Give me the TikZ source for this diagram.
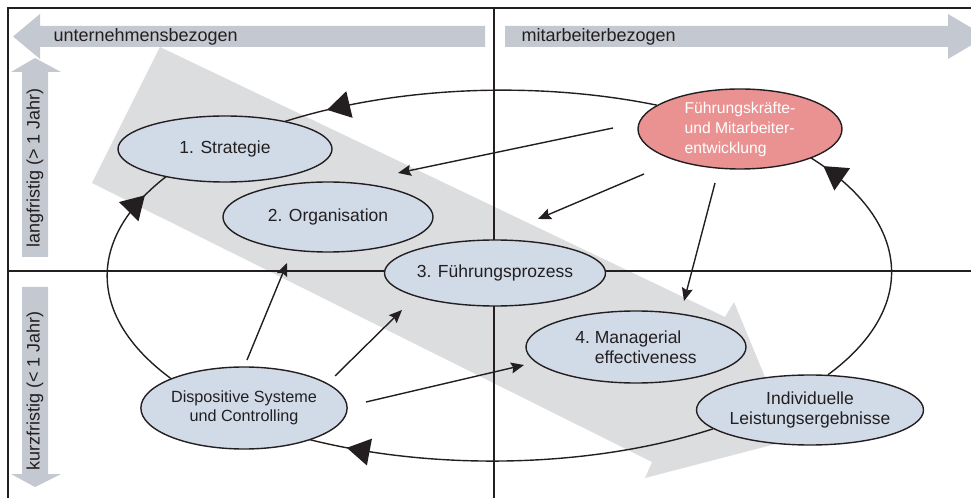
\documentclass[tikz,border=0pt]{standalone}
\usepackage{fontspec}
\setmainfont{Liberation Sans}
\usetikzlibrary{arrows.meta,shapes.geometric,decorations.markings}
\definecolor{bandgrau}{RGB}{220,221,223}
\definecolor{balkengrau}{RGB}{196,200,208}
\definecolor{ellblau}{RGB}{209,219,232}
\definecolor{ellrot}{RGB}{234,146,145}
\definecolor{linie}{RGB}{35,31,32}
\pgfdeclarelayer{bg}
\pgfdeclarelayer{back}
\pgfsetlayers{bg,back,main}

\begin{document}
\begin{tikzpicture}[x=1pt, y=1pt, >={Stealth[length=13pt,width=11pt,inset=2pt]},
    every node/.style={font=\fontsize{17.5}{20.5}\selectfont, text=linie},
    feld/.style={ellipse, draw=linie, line width=1.4pt, fill=ellblau, inner sep=0pt},
    kreis/.style={color=linie, line width=1.4pt},
    pfeilmitte/.style={postaction=decorate, decoration={markings,
        mark=at position #1 with {\arrow{Triangle[length=23pt,width=27pt]}}}},
    verbindung/.style={->, color=linie, line width=1.4pt},
    etikett/.style={font=\fontsize{18}{21}\selectfont}]
  \useasboundingbox (0,0) rectangle (971,498);

  % Felder
  \node[feld, minimum width=214pt, minimum height=66pt] (strat) at (225,349) {1. Strategie};
  \node[feld, minimum width=210pt, minimum height=70pt] (org) at (328,281) {2. Organisation};
  \node[feld, minimum width=216pt, minimum height=66pt] (fp) at (495,225) {3. Führungsprozess};
  \node[feld, minimum width=220pt, minimum height=72pt, align=left] (mgr) at (636,151)
    {4.~Managerial\\\hphantom{4.~}effectiveness};
  \node[feld, minimum width=204pt, minimum height=70pt, align=center] (indiv) at (810,88)
    {Individuelle\\Leistungsergebnisse};
  \node[feld, minimum width=204pt, minimum height=82pt, align=center,
    font=\fontsize{16.2}{19.5}\selectfont] (disp) at (244,90)
    {Dispositive Systeme\\und Controlling};
  \node[feld, fill=ellrot, text=white, minimum width=204pt, minimum height=80pt, align=left,
    font=\fontsize{15.7}{20}\selectfont] (fk) at (740,369)
    {Führungskräfte-\\und Mitarbeiter-\\entwicklung};

  % Hintergrund: Band und Achsen
  \begin{pgfonlayer}{bg}
    \fill[bandgrau] (160,451) -- (725,181) -- (734,196) -- (791,58) -- (645,20) -- (652,36) -- (92,315) -- cycle;
    \begin{scope}
      \clip (0,0) rectangle (971,498);
      \fill[balkengrau] (13,461.5) -- (40,484) -- (40,472) -- (485,472) -- (485,451) -- (40,451) -- (40,439) -- cycle;
      \fill[balkengrau] (505,472) -- (948,472) -- (948,484) -- (986,461.5) -- (948,439) -- (948,451) -- (505,451) -- cycle;
      \fill[balkengrau] (22,241) -- (22,426) -- (11,426) -- (35,440) -- (61,426) -- (48,426) -- (48,241) -- cycle;
      \fill[balkengrau] (22,211) -- (22,24) -- (11,24) -- (35,11) -- (61,24) -- (48,24) -- (48,211) -- cycle;
    \end{scope}
  \end{pgfonlayer}
  \node[etikett, anchor=west] (unt) at (50,461.5) {unternehmensbezogen};
  \node[etikett, anchor=west] (mit) at (518,461.5) {mitarbeiterbezogen};
  \node[etikett, rotate=90] (lang) at (35,330) {langfristig (> 1 Jahr)};
  \node[etikett, rotate=90] (kurz) at (35,107) {kurzfristig (< 1 Jahr)};

  % Rahmen, Achsen und Kreislauf
  \begin{pgfonlayer}{back}
    \draw[linie, line width=1.5pt] (971,490) -- (8,490) -- (8,0);
    \draw[linie, line width=1.3pt] (8,227) -- (971,227);
    \draw[linie, line width=1.3pt] (494,490) -- (494,0);
    \draw[kreis, pfeilmitte=0.85] (fk.164) arc[start angle=67, end angle=126, x radius=394.5, y radius=188.5];
    \draw[kreis, pfeilmitte=0.88] (disp.158) arc[start angle=213, end angle=148, x radius=394.5, y radius=188.5];
    \draw[kreis, pfeilmitte=0.85] (indiv.191) arc[start angle=-56, end angle=-122, x radius=394.5, y radius=188.5];
    \draw[kreis, pfeilmitte=0.90] (indiv.63) arc[start angle=-33, end angle=40, x radius=394.5, y radius=188.5];
  \end{pgfonlayer}

  % Wirkungen
  \coordinate (fk-a) at (613,370);
  \coordinate (fk-b) at (644,324);
  \coordinate (fk-c) at (715,315);
  \coordinate (disp-a) at (247,138);
  \coordinate (disp-b) at (335,122);
  \coordinate (disp-c) at (366,96);
  \coordinate (org-z) at (398,325);
  \coordinate (fp-z) at (538,279);
  \coordinate (mgr-z) at (684,197);
  \coordinate (org-y) at (287,235);
  \coordinate (fp-y) at (402,188);
  \coordinate (mgr-y) at (524,133);
  \draw[verbindung] (fk-a) -- (org-z);
  \draw[verbindung] (fk-b) -- (fp-z);
  \draw[verbindung] (fk-c) -- (mgr-z);
  \draw[verbindung] (disp-a) -- (org-y);
  \draw[verbindung] (disp-b) -- (fp-y);
  \draw[verbindung] (disp-c) -- (mgr-y);
\end{tikzpicture}
\end{document}
